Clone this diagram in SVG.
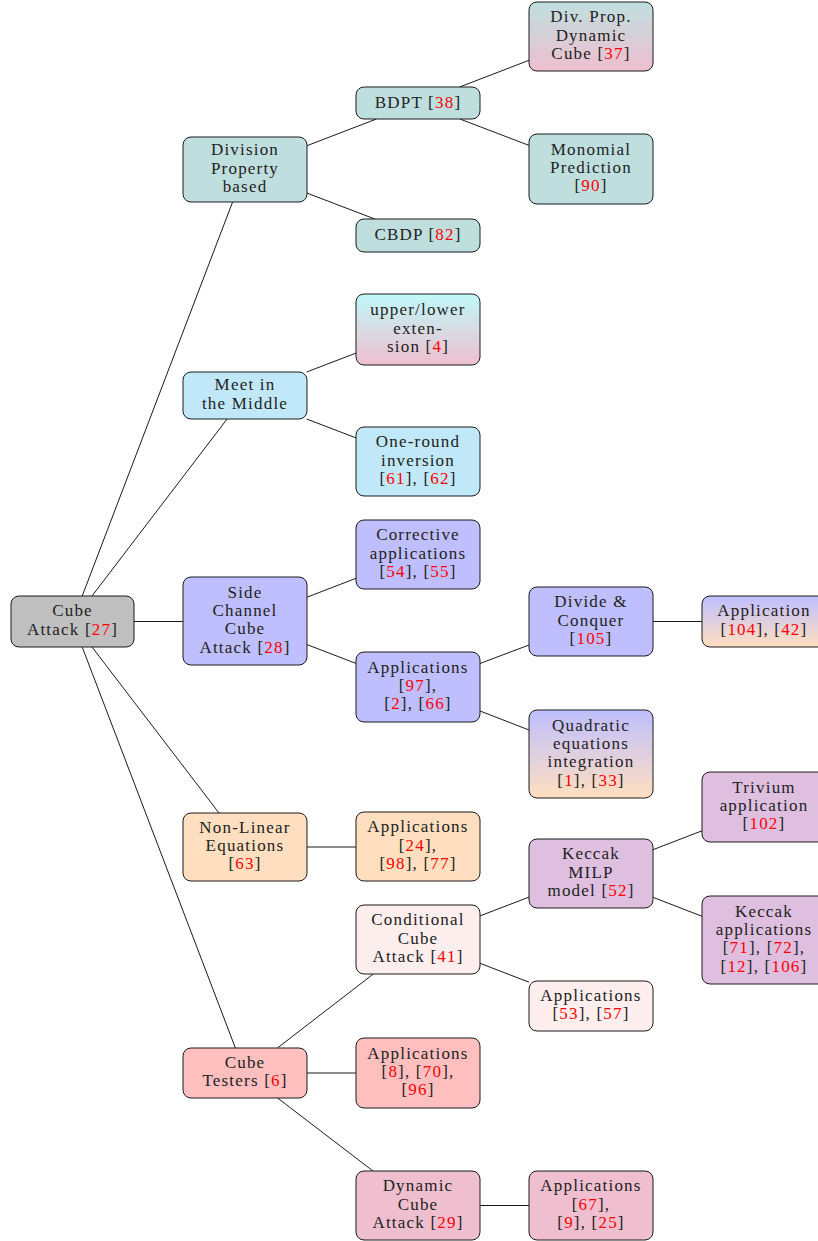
<svg xmlns="http://www.w3.org/2000/svg" width="818" height="1241" viewBox="0 0 818 1241">
<style>
.n rect{stroke:#1a1a1a;stroke-width:1}
text{font-family:"Liberation Serif","Times New Roman",serif;font-size:17px;letter-spacing:1.2px;text-anchor:middle;fill:#222222}
.r{fill:#ff0000}
#edges line{stroke:#000;stroke-width:0.9}
.gray{fill:#bfbfbf}.teal{fill:#bfdfdf}.sky{fill:#c0e8f9}.blue{fill:#bfbfff}.orange{fill:#ffdfbf}.red{fill:#ffbfbf}.lred{fill:#ffeeee}.purple{fill:#efbfcf}.violet{fill:#dfbfdf}
</style>
<defs>
<linearGradient id="gTP" x1="0" y1="0" x2="0" y2="1"><stop offset="0" stop-color="#bfdfdf"/><stop offset="1" stop-color="#efbfcf"/></linearGradient>
<linearGradient id="gCP" x1="0" y1="0" x2="0" y2="1"><stop offset="0" stop-color="#bff8f8"/><stop offset="1" stop-color="#efbfcf"/></linearGradient>
<linearGradient id="gBO" x1="0" y1="0" x2="0" y2="1"><stop offset="0" stop-color="#bfbfff"/><stop offset="1" stop-color="#ffdfbf"/></linearGradient>
</defs>
<rect width="818" height="1241" fill="#ffffff"/>
<g id="edges">
<line x1="82.2" y1="596" x2="232.6" y2="202"/>
<line x1="92" y1="596" x2="227.1" y2="419"/>
<line x1="134" y1="621.5" x2="183" y2="621.5"/>
<line x1="92" y1="647" x2="219" y2="813"/>
<line x1="82.2" y1="647" x2="235.4" y2="1048"/>
<line x1="307" y1="145.7" x2="376.4" y2="119"/>
<line x1="307" y1="193.1" x2="374.8" y2="219"/>
<line x1="306.6" y1="372" x2="356" y2="353.1"/>
<line x1="306.6" y1="419" x2="356" y2="437.9"/>
<line x1="307" y1="597.2" x2="356" y2="578.3"/>
<line x1="307" y1="644.6" x2="356" y2="663.4"/>
<line x1="307" y1="847" x2="356" y2="847"/>
<line x1="277.4" y1="1048" x2="373.3" y2="974"/>
<line x1="307" y1="1073" x2="356" y2="1073"/>
<line x1="277.6" y1="1098" x2="373" y2="1171"/>
<line x1="459.6" y1="87" x2="529" y2="60.3"/>
<line x1="459.9" y1="119" x2="529" y2="145.4"/>
<line x1="480" y1="663.5" x2="529" y2="645"/>
<line x1="480" y1="711" x2="529" y2="730"/>
<line x1="480" y1="915.9" x2="529" y2="897.1"/>
<line x1="480" y1="963.3" x2="529" y2="982.2"/>
<line x1="480" y1="1205.5" x2="529" y2="1205.5"/>
<line x1="653" y1="621.5" x2="702" y2="621.5"/>
<line x1="653" y1="849.7" x2="702" y2="830.8"/>
<line x1="653" y1="897.3" x2="702" y2="916.3"/>
</g>
<g id="cube-attack" class="n"><rect x="11" y="596" width="123" height="51" rx="8" class="gray"/><text x="72.5" y="616.4">Cube</text><text x="72.5" y="634.7">Attack [<tspan class="r">27</tspan>]</text></g>
<g id="division" class="n"><rect x="183" y="137" width="124" height="65" rx="8" class="teal"/><text x="245" y="155.2">Division</text><text x="245" y="173.5">Property</text><text x="245" y="191.8">based</text></g>
<g id="mitm" class="n"><rect x="183" y="372" width="124" height="47" rx="8" class="sky"/><text x="245" y="390.4">Meet in</text><text x="245" y="408.7">the Middle</text></g>
<g id="side-channel" class="n"><rect x="183" y="577" width="124" height="88" rx="8" class="blue"/><text x="245" y="597.6">Side</text><text x="245" y="615.9">Channel</text><text x="245" y="634.2">Cube</text><text x="245" y="652.5">Attack [<tspan class="r">28</tspan>]</text></g>
<g id="non-linear" class="n"><rect x="183" y="813" width="124" height="68" rx="8" class="orange"/><text x="245" y="832.7">Non-Linear</text><text x="245" y="851">Equations</text><text x="245" y="869.3">[<tspan class="r">63</tspan>]</text></g>
<g id="cube-testers" class="n"><rect x="183" y="1048" width="124" height="50" rx="8" class="red"/><text x="245" y="1067.9">Cube</text><text x="245" y="1086.2">Testers [<tspan class="r">6</tspan>]</text></g>
<g id="bdpt" class="n"><rect x="356" y="87" width="124" height="32" rx="8" class="teal"/><text x="418" y="107.5">BDPT [<tspan class="r">38</tspan>]</text></g>
<g id="cbdp" class="n"><rect x="356" y="219" width="124" height="33" rx="8" class="teal"/><text x="418" y="240">CBDP [<tspan class="r">82</tspan>]</text></g>
<g id="upper-lower" class="n"><rect x="356" y="294" width="124" height="71" rx="8" fill="url(#gCP)"/><text x="418" y="315.2">upper/lower</text><text x="418" y="333.5">exten-</text><text x="418" y="351.8">sion [<tspan class="r">4</tspan>]</text></g>
<g id="one-round" class="n"><rect x="356" y="427" width="124" height="69" rx="8" class="sky"/><text x="418" y="447.2">One-round</text><text x="418" y="465.5">inversion</text><text x="418" y="483.8">[<tspan class="r">61</tspan>], [<tspan class="r">62</tspan>]</text></g>
<g id="corrective" class="n"><rect x="356" y="520" width="124" height="69" rx="8" class="blue"/><text x="418" y="540.2">Corrective</text><text x="418" y="558.5">applications</text><text x="418" y="576.8">[<tspan class="r">54</tspan>], [<tspan class="r">55</tspan>]</text></g>
<g id="sc-applications" class="n"><rect x="356" y="652" width="124" height="70" rx="8" class="blue"/><text x="418" y="672.7">Applications</text><text x="418" y="691">[<tspan class="r">97</tspan>],</text><text x="418" y="709.3">[<tspan class="r">2</tspan>], [<tspan class="r">66</tspan>]</text></g>
<g id="nl-applications" class="n"><rect x="356" y="812" width="124" height="69" rx="8" class="orange"/><text x="418" y="832.2">Applications</text><text x="418" y="850.5">[<tspan class="r">24</tspan>],</text><text x="418" y="868.8">[<tspan class="r">98</tspan>], [<tspan class="r">77</tspan>]</text></g>
<g id="conditional" class="n"><rect x="356" y="905" width="124" height="69" rx="8" class="lred"/><text x="418" y="925.2">Conditional</text><text x="418" y="943.5">Cube</text><text x="418" y="961.8">Attack [<tspan class="r">41</tspan>]</text></g>
<g id="ct-applications" class="n"><rect x="356" y="1038" width="124" height="70" rx="8" class="red"/><text x="418" y="1058.7">Applications</text><text x="418" y="1077">[<tspan class="r">8</tspan>], [<tspan class="r">70</tspan>],</text><text x="418" y="1095.3">[<tspan class="r">96</tspan>]</text></g>
<g id="dynamic" class="n"><rect x="356" y="1171" width="124" height="69" rx="8" class="purple"/><text x="418" y="1191.2">Dynamic</text><text x="418" y="1209.5">Cube</text><text x="418" y="1227.8">Attack [<tspan class="r">29</tspan>]</text></g>
<g id="div-prop-dynamic" class="n"><rect x="529" y="2" width="124" height="69" rx="8" fill="url(#gTP)"/><text x="591" y="22.2">Div. Prop.</text><text x="591" y="40.5">Dynamic</text><text x="591" y="58.8">Cube [<tspan class="r">37</tspan>]</text></g>
<g id="monomial" class="n"><rect x="529" y="134" width="124" height="70" rx="8" class="teal"/><text x="591" y="154.7">Monomial</text><text x="591" y="173">Prediction</text><text x="591" y="191.3">[<tspan class="r">90</tspan>]</text></g>
<g id="divide-conquer" class="n"><rect x="529" y="587" width="124" height="69" rx="8" class="blue"/><text x="591" y="607.2">Divide &amp;</text><text x="591" y="625.5">Conquer</text><text x="591" y="643.8">[<tspan class="r">105</tspan>]</text></g>
<g id="quadratic" class="n"><rect x="529" y="710" width="124" height="88" rx="8" fill="url(#gBO)"/><text x="591" y="730.6">Quadratic</text><text x="591" y="748.9">equations</text><text x="591" y="767.2">integration</text><text x="591" y="785.5">[<tspan class="r">1</tspan>], [<tspan class="r">33</tspan>]</text></g>
<g id="keccak-milp" class="n"><rect x="529" y="839" width="124" height="69" rx="8" class="violet"/><text x="591" y="859.2">Keccak</text><text x="591" y="877.5">MILP</text><text x="591" y="895.8">model [<tspan class="r">52</tspan>]</text></g>
<g id="cond-applications" class="n"><rect x="529" y="981" width="124" height="50" rx="8" class="lred"/><text x="591" y="1000.9">Applications</text><text x="591" y="1019.2">[<tspan class="r">53</tspan>], [<tspan class="r">57</tspan>]</text></g>
<g id="dyn-applications" class="n"><rect x="529" y="1171" width="124" height="69" rx="8" class="purple"/><text x="591" y="1191.2">Applications</text><text x="591" y="1209.5">[<tspan class="r">67</tspan>],</text><text x="591" y="1227.8">[<tspan class="r">9</tspan>], [<tspan class="r">25</tspan>]</text></g>
<g id="dc-application" class="n"><rect x="702" y="596" width="124" height="51" rx="8" fill="url(#gBO)"/><text x="764" y="616.4">Application</text><text x="764" y="634.7">[<tspan class="r">104</tspan>], [<tspan class="r">42</tspan>]</text></g>
<g id="trivium" class="n"><rect x="702" y="772" width="124" height="70" rx="8" class="violet"/><text x="764" y="792.7">Trivium</text><text x="764" y="811">application</text><text x="764" y="829.3">[<tspan class="r">102</tspan>]</text></g>
<g id="keccak-applications" class="n"><rect x="702" y="896" width="124" height="88" rx="8" class="violet"/><text x="764" y="916.6">Keccak</text><text x="764" y="934.9">applications</text><text x="764" y="953.2">[<tspan class="r">71</tspan>], [<tspan class="r">72</tspan>],</text><text x="764" y="971.5">[<tspan class="r">12</tspan>], [<tspan class="r">106</tspan>]</text></g>
</svg>
